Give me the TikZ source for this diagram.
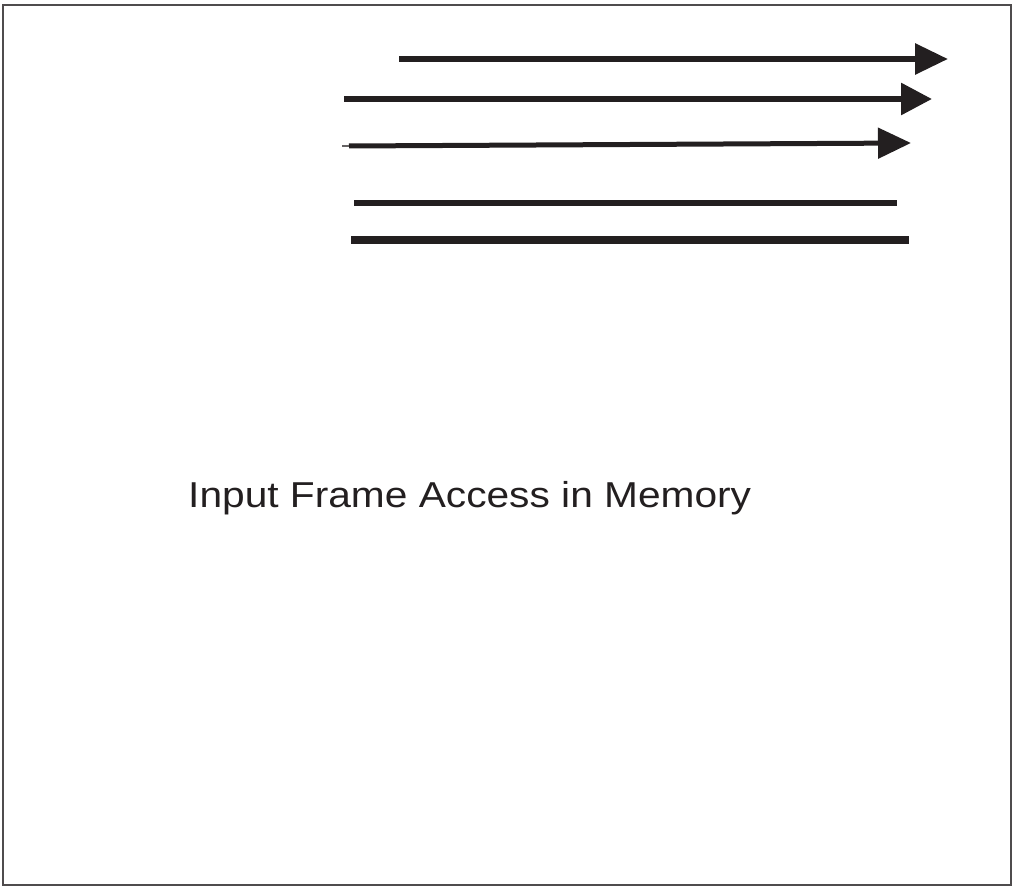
\documentclass[tikz,border=0pt]{standalone}
\usepackage{fontspec}
\setmainfont{Liberation Sans}
\usetikzlibrary{arrows.meta}
\definecolor{ink}{RGB}{35,31,32}
\begin{document}
\begin{tikzpicture}[x=1pt,y=-1pt,
  trace/.style={draw=ink,line width=6pt},
  headed/.style={trace,-{Triangle[length=33pt,width=30pt]}},
  frame/.style={draw=ink!80,line width=1.5pt}]
\useasboundingbox (0,0) rectangle (1013,888);
\draw[frame] (3,5) rectangle (1011,885);

% row start and end points
\coordinate (a1) at (399,59);  \coordinate (b1) at (948,59);
\coordinate (a2) at (344,99);  \coordinate (b2) at (932,99);
\coordinate (a3) at (349,146); \coordinate (b3) at (911,143);
\coordinate (s3) at (342,146);
\coordinate (a4) at (354,203); \coordinate (b4) at (897,203);
\coordinate (a5) at (351,240); \coordinate (b5) at (909,240);

\draw[headed] (a1) -- (b1);
\draw[headed,-{Triangle[length=31pt,width=31pt]}] (a2) -- (b2);
\draw[headed,line width=5pt] (a3) -- (b3);
\draw[draw=ink!70,line width=1.5pt] (s3) -- (a3);
\draw[trace] (a4) -- (b4);
\draw[trace,line width=7pt] (a5) -- (b5);

\node[anchor=base west,inner sep=0pt,text=ink,xscale=1.13,font=\fontsize{36}{40}\selectfont] (title) at (188,507) {Input Frame Access in Memory};
\end{tikzpicture}
\end{document}
